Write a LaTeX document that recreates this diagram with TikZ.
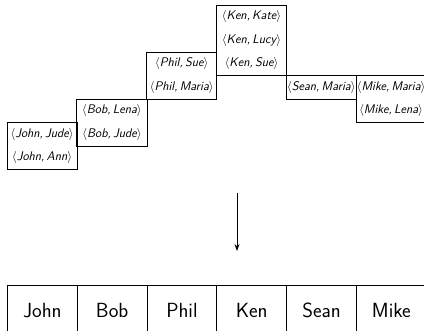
\documentclass[tikz,border=0pt]{standalone}
\usetikzlibrary{fit,arrows.meta}
\newcommand{\pr}[2]{$\langle$#1,\,#2$\rangle$}
\tikzset{
  pair/.style={minimum width=69.8pt, minimum height=23.5pt, inner sep=0pt, anchor=north west,
    font=\fontsize{12.5}{14}\selectfont\sffamily\slshape},
  grp/.style={draw, line width=0.9pt, inner sep=0pt},
  cell/.style={draw, line width=0.9pt, minimum width=69.8pt, minimum height=50pt, inner sep=0pt,
    anchor=north west, text height=14.5pt, text depth=0pt, font=\fontsize{20.5}{24}\selectfont\sffamily},
  flow/.style={line width=0.8pt, -{Stealth[length=7pt,width=5pt]}}
}
\begin{document}
\begin{tikzpicture}[x=1pt,y=-1pt]
\clip (0,0) rectangle (424,331);
% John
\node[pair] (j1) at (7,122.5) {\pr{John}{Jude}};
\node[pair] (j2) at (7,146) {\pr{John}{Ann}};
\node[grp, fit=(j1)(j2)] (jb) {};
% Bob
\node[pair] (b1) at (76.8,99) {\pr{Bob}{Lena}};
\node[pair] (b2) at (76.8,122.5) {\pr{Bob}{Jude}};
\node[grp, fit=(b1)(b2)] (bb) {};
% Phil
\node[pair] (p1) at (146.6,52) {\pr{Phil}{Sue}};
\node[pair] (p2) at (146.6,75.5) {\pr{Phil}{Maria}};
\node[grp, fit=(p1)(p2)] (pb) {};
% Ken
\node[pair] (k1) at (216.4,5) {\pr{Ken}{Kate}};
\node[pair] (k2) at (216.4,28.5) {\pr{Ken}{Lucy}};
\node[pair] (k3) at (216.4,52) {\pr{Ken}{Sue}};
\node[grp, fit=(k1)(k3)] (kb) {};
% Sean
\node[pair] (s1) at (286.2,75.5) {\pr{Sean}{Maria}};
\node[grp, fit=(s1)] (sb) {};
% Mike
\node[pair] (m1) at (356,75.5) {\pr{Mike}{Maria}};
\node[pair] (m2) at (356,99) {\pr{Mike}{Lena}};
\node[grp, fit=(m1)(m2)] (mb) {};
% arrow
\coordinate (a1) at (237,193);
\coordinate (a2) at (237,251);
\draw[flow] (a1) -- (a2);
% bottom row
\node[cell] (c1) at (7,285) {John};
\node[cell] (c2) at (76.8,285) {Bob};
\node[cell] (c3) at (146.6,285) {Phil};
\node[cell] (c4) at (216.4,285) {Ken};
\node[cell] (c5) at (286.2,285) {Sean};
\node[cell] (c6) at (356,285) {Mike};
\end{tikzpicture}
\end{document}
